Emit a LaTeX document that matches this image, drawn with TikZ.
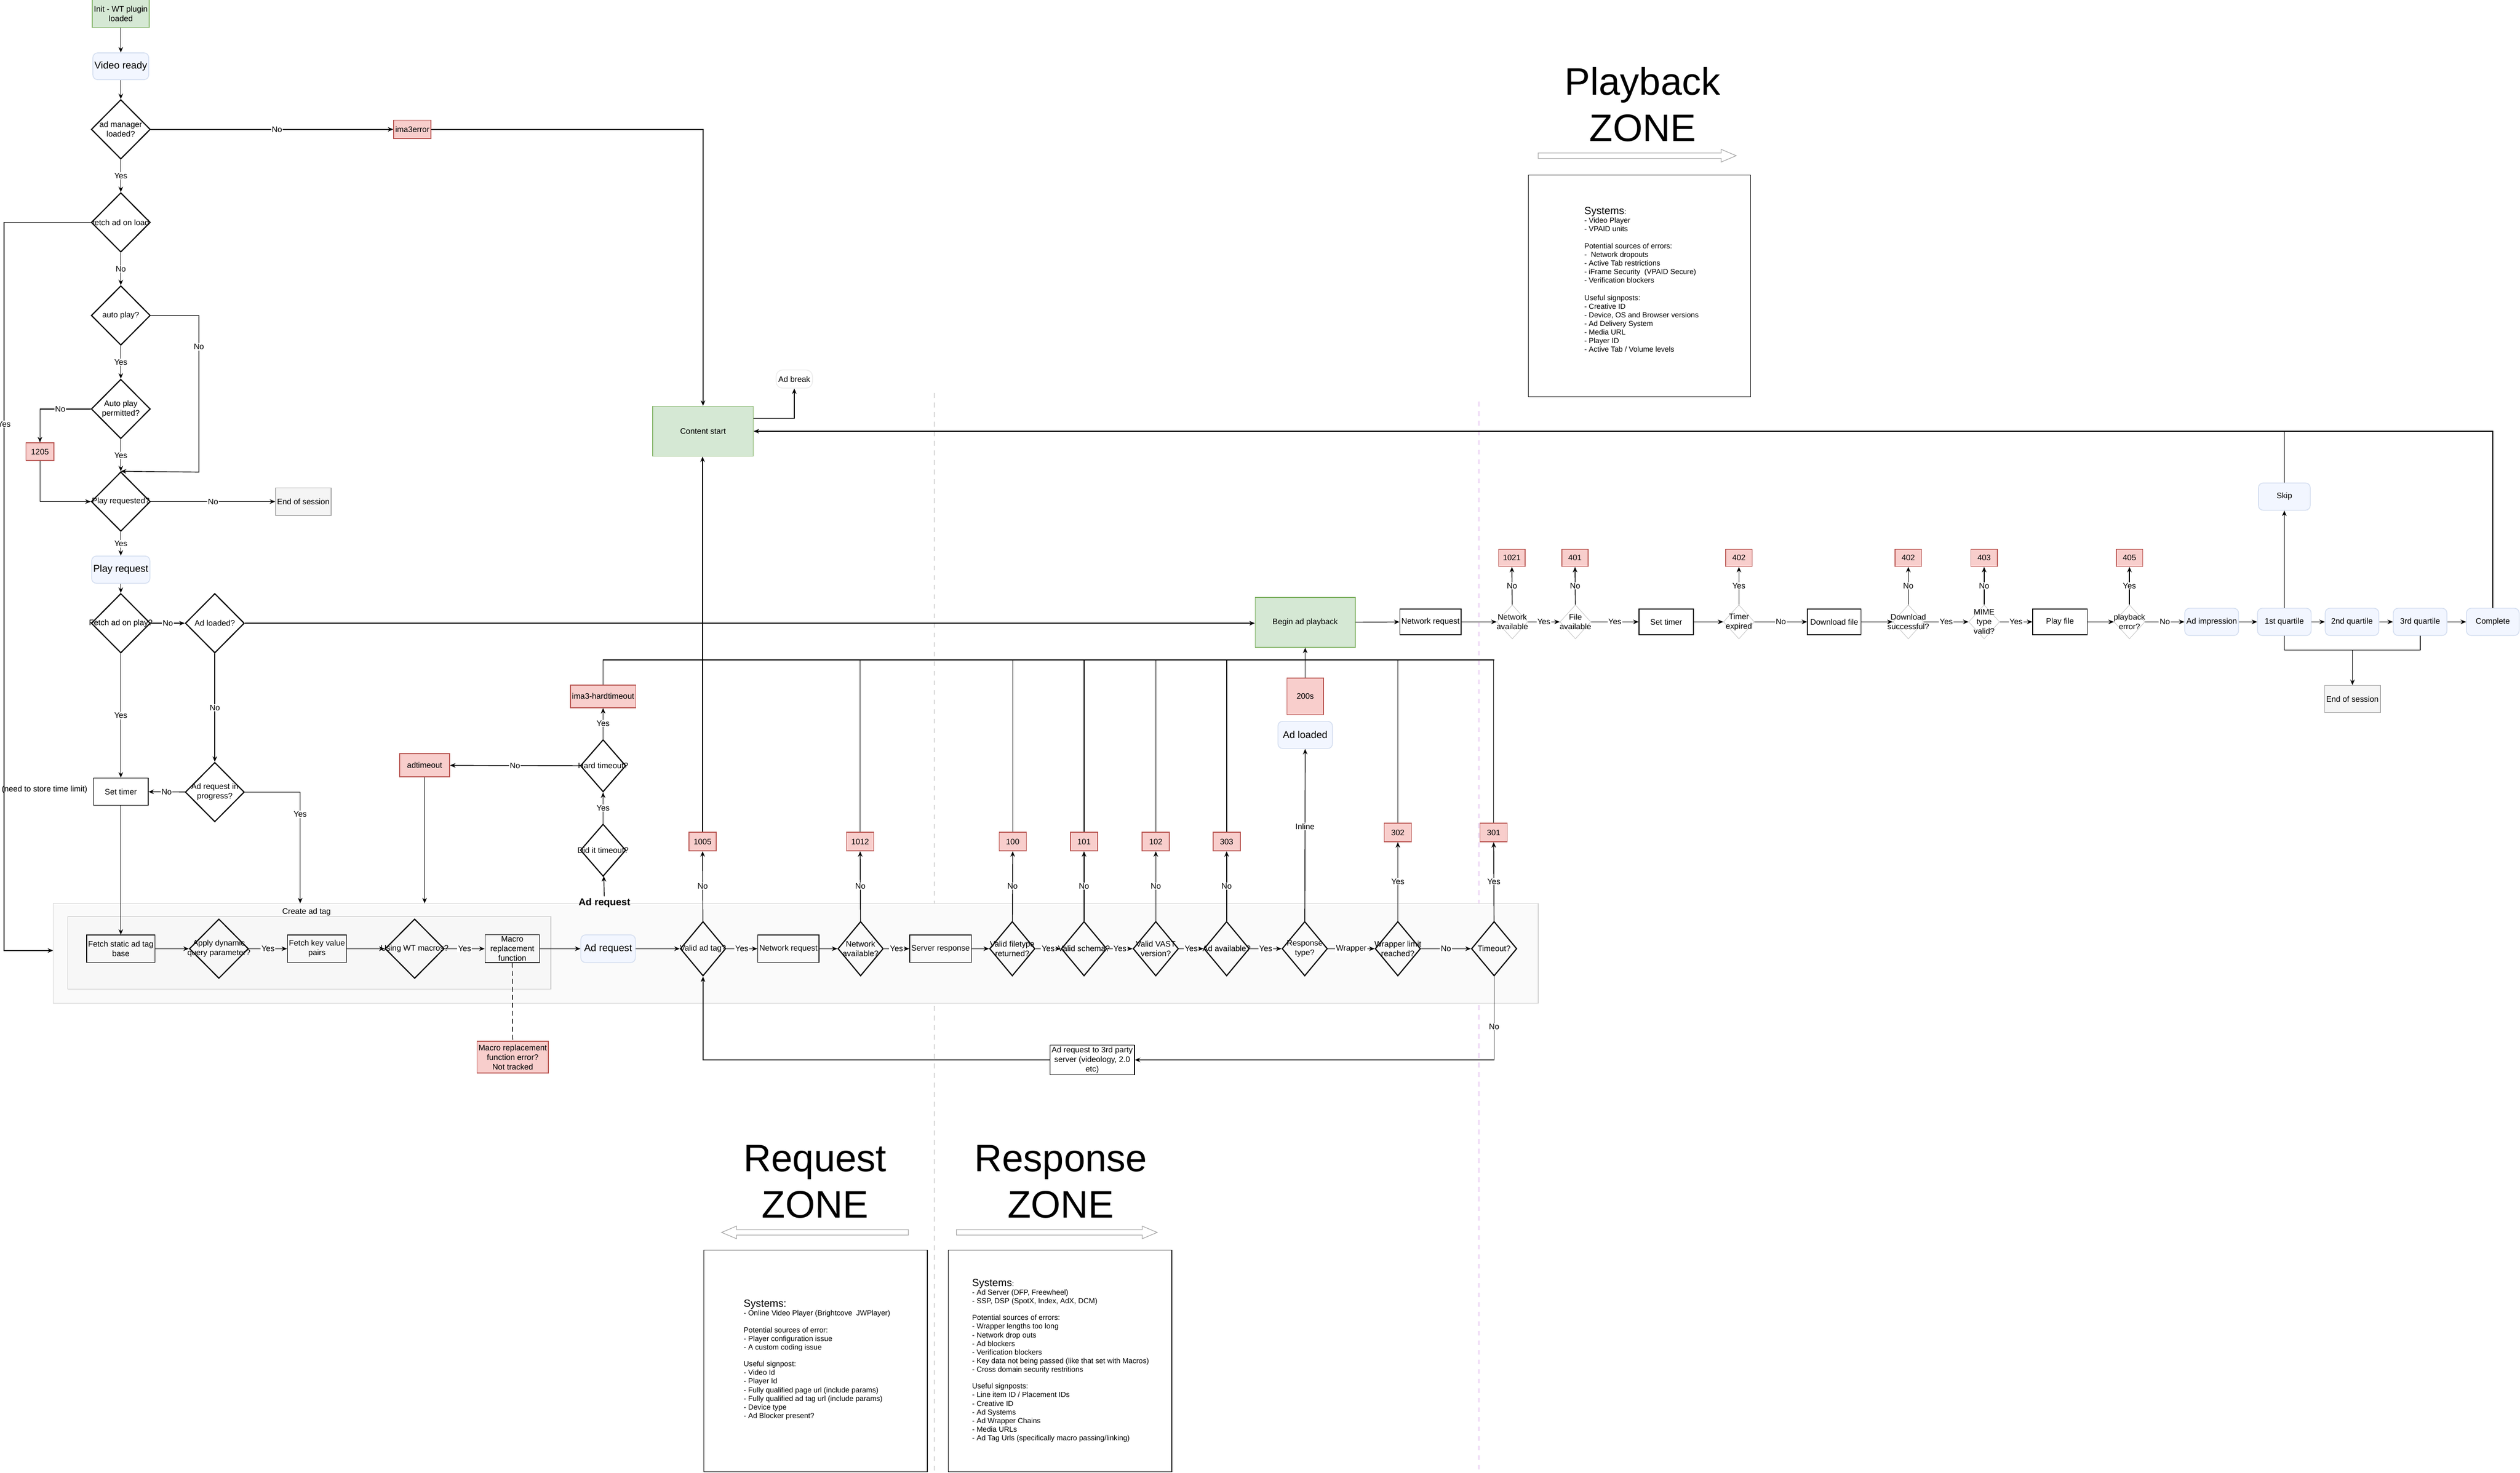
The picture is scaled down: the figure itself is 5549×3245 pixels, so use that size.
\documentclass[tikz,border=0pt]{standalone}
\usepackage{fontspec}
\setmainfont{Liberation Sans}
\usetikzlibrary{shapes.geometric,arrows.meta}
\definecolor{rfill}{HTML}{F8CECC}\definecolor{rdraw}{HTML}{B85450}
\definecolor{gfill}{HTML}{D5E8D4}\definecolor{gdraw}{HTML}{82B366}
\definecolor{bfill}{HTML}{F2F6FF}\definecolor{bdraw}{HTML}{D4DEF0}
\definecolor{pinkline}{HTML}{D8A8E8}
\newcommand\fs{\fontsize{5}{6}\selectfont}
\newcommand\fsb{\fontsize{6.2}{7.4}\selectfont}
\tikzset{
 box/.style={draw,rectangle,minimum width=1.2cm,minimum height=0.6cm,align=center,font=\fs,inner sep=1pt,line width=0.5pt},
 rbox/.style={box,rounded corners=3pt,fill=bfill,draw=bdraw,font=\fsb},
 err/.style={box,fill=rfill,draw=rdraw,minimum width=0.6cm,minimum height=0.41cm},
 grn/.style={box,fill=gfill,draw=gdraw},
 gry/.style={box,fill=gray!8,draw=gray!70},
 dia/.style={draw,diamond,inner sep=0pt,minimum width=1.3cm,minimum height=1.31cm,line width=0.7pt},
 dsm/.style={dia,minimum width=1.0cm,minimum height=1.2cm},
 dlt/.style={dia,draw=gray!45,line width=0.3pt,minimum width=0.68cm,minimum height=0.75cm},
 dtext/.style={align=center,font=\fs,inner sep=0pt},
 arr/.style={-{Stealth[length=1.2mm,width=1mm]},line width=0.45pt},
 ln/.style={line width=0.45pt},
 lab/.style={fill=white,font=\fs,inner sep=0.5pt},
 info/.style={anchor=north west,align=left,font=\fontsize{4.6}{5.4}\selectfont,inner sep=0pt},
}
\newcommand\dnode[4]{\node[#4] (#1) at (#2) {}; \node[dtext] (#1-t) at (#1) {#3};}
\begin{document}
\begin{tikzpicture}[x=0.01cm,y=-0.01cm]
\fill[white] (0,0) rectangle (5549,3245);
\useasboundingbox (0,0) rectangle (5549,3245);
% zone separators
\draw[gray!60,dashed,line width=0.4pt] (2057,866) -- (2057,3245);
\draw[pinkline,dashed,line width=0.4pt] (3257,885) -- (3257,3245);
% containers
\draw[fill=gray!4,draw=gray!35,line width=0.4pt] (117,1990) rectangle (3387,2210);
\draw[fill=gray!6,draw=gray!45,line width=0.4pt] (149,2019) rectangle (1213,2179);
\node[font=\fs] (cat) at (675,2009) {Create ad tag};
\coordinate (outL) at (117,2094);
\coordinate (outT1) at (661,1990);
\coordinate (outT2) at (935,1990);
% left column
\node[grn,minimum height=0.61cm] (init) at (266,30) {Init - WT plugin\\loaded};
\node[rbox,minimum height=0.59cm] (vready) at (266,146) {Video ready};
\dnode{adm}{266,285}{ad manager\\loaded?}{dia}
\node[err,minimum width=0.8cm] (ima) at (908,285) {ima3error};
\dnode{fload}{266,490}{fetch ad on load}{dia}
\dnode{aplay}{266,695}{auto play?}{dia}
\dnode{aperm}{266,901}{Auto play\\permitted?}{dia}
\node[err,minimum width=0.62cm,minimum height=0.39cm] (e1205) at (88,995) {1205};
\dnode{preq}{266,1105}{Play requested?}{dia}
\node[gry,minimum width=1.19cm] (eos1) at (668,1105) {End of session};
\node[rbox] (prequest) at (266,1255) {Play request};
\dnode{fplay}{266,1373}{Fetch ad on play?}{dia}
\dnode{adld}{473,1373}{Ad loaded?}{dia}
\dnode{adprog}{473,1745}{Ad request in\\progress?}{dia}
\node[box] (stimer) at (266,1744) {Set timer};
\node[font=\fs] (note) at (98,1739) {(need to store time limit)};
\node[grn,minimum width=2.21cm,minimum height=1.1cm] (cs) at (1548,950) {Content start};
\node[box,rounded corners=4pt,draw=gray!15,minimum width=0.8cm,minimum height=0.4cm] (abreak) at (1749,835) {Ad break};
% request row
\node[box] (fstatic) at (266,2090) {Fetch static ad tag\\base};
\dnode{applyd}{482,2090}{Apply dynamic\\query parameter?}{dia}
\node[box] (fkv) at (698,2090) {Fetch key value\\pairs};
\dnode{usewt}{913,2090}{Using WT macros?}{dia}
\node[box] (macro) at (1128,2090) {Macro\\replacement\\function};
\node[rbox,minimum height=0.61cm] (adreq) at (1339,2090) {Ad request};
\dnode{vtag}{1548,2090}{Valid ad tag?}{dsm}
\node[box] (netreq) at (1736,2090) {Network request};
\dnode{netav}{1895,2090}{Network\\available?}{dsm}
\node[box] (srv) at (2071,2090) {Server response};
\dnode{vft}{2229,2090}{Valid filetype\\returned?}{dsm}
\dnode{vsch}{2387,2090}{Valid schema?}{dsm}
\dnode{vvast}{2545,2090}{Valid VAST\\version?}{dsm}
\dnode{adav}{2701,2090}{Ad available?}{dsm}
\dnode{rtype}{2873,2090}{Response\\type?}{dsm}
\dnode{wrap}{3078,2090}{Wrapper limit\\reached?}{dsm}
\dnode{tout}{3290,2090}{Timeout?}{dsm}
\node[err] (e1005) at (1547,1854) {1005};
\node[err] (e1012) at (1894,1854) {1012};
\node[err] (e100) at (2230,1854) {100};
\node[err] (e101) at (2387,1854) {101};
\node[err] (e102) at (2545,1854) {102};
\node[err] (e303) at (2701,1854) {303};
\node[err] (e302) at (3078,1834) {302};
\node[err] (e301) at (3289,1834) {301};
\node[err,minimum width=1.4cm,minimum height=0.7cm] (merr) at (1129,2329) {Macro replacement\\function error?\\Not tracked};
\node[err,minimum width=1.1cm,minimum height=0.51cm] (adto) at (935,1686) {adtimeout};
\dnode{hardto}{1328,1687}{Hard timeout?}{dsm,minimum height=1.15cm}
\node[err,minimum width=1.41cm,minimum height=0.5cm] (hard3) at (1328,1534) {ima3-hardtimeout};
\dnode{didto}{1328,1873}{Did it timeout?}{dsm,minimum height=1.15cm}
\node[font=\fsb\bfseries,inner sep=1pt] (adreql) at (1331,1989) {Ad request};
\node[box,minimum width=1.52cm] (third) at (2405,2335) {Ad request to 3rd party\\server (videology, 2.0\\etc)};
\node[rbox] (adloaded) at (2874,1619) {Ad loaded};
\node[err,minimum width=0.8cm,minimum height=0.8cm] (e200) at (2874,1534) {200s};
\node[grn,minimum width=2.2cm,minimum height=1.1cm] (begin) at (2874,1371) {Begin ad playback};
% playback row
\node[box,minimum width=1.18cm,minimum height=0.57cm] (pnet) at (3150,1370) {Network request};
\dnode{pnav}{3330,1370}{Network\\available}{dlt}
\dnode{pfile}{3469,1370}{File\\available}{dlt}
\node[box,minimum height=0.57cm] (pst) at (3669,1370) {Set timer};
\dnode{ptim}{3829,1370}{Timer\\expired}{dlt}
\node[box,minimum width=1.18cm,minimum height=0.57cm] (pdl) at (4039,1370) {Download file};
\dnode{pdls}{4202,1370}{Download\\successful?}{dlt}
\dnode{pmime}{4369,1370}{MIME\\type\\valid?}{dlt}
\node[box,minimum height=0.57cm] (pplay) at (4536,1370) {Play file};
\dnode{pperr}{4689,1370}{playback\\error?}{dlt}
\node[rbox,minimum width=1.18cm,font=\fs] (aimp) at (4870,1370) {Ad impression};
\node[rbox,minimum width=1.18cm,font=\fs] (q1) at (5030,1370) {1st quartile};
\node[rbox,minimum width=1.18cm,font=\fs] (q2) at (5179,1370) {2nd quartile};
\node[rbox,minimum width=1.18cm,font=\fs] (q3) at (5329,1370) {3rd quartile};
\node[rbox,minimum width=1.16cm,font=\fs] (comp) at (5489,1370) {Complete};
\node[err,minimum width=0.58cm,minimum height=0.38cm] (e1021) at (3329,1229) {1021};
\node[err,minimum width=0.58cm,minimum height=0.38cm] (e401) at (3468,1229) {401};
\node[err,minimum width=0.58cm,minimum height=0.38cm] (e402a) at (3829,1229) {402};
\node[err,minimum width=0.58cm,minimum height=0.38cm] (e402b) at (4202,1229) {402};
\node[err,minimum width=0.58cm,minimum height=0.38cm] (e403) at (4369,1229) {403};
\node[err,minimum width=0.58cm,minimum height=0.38cm] (e405) at (4689,1229) {405};
\node[rbox,minimum width=1.14cm,font=\fs] (skip) at (5030,1094) {Skip};
\node[gry,minimum width=1.18cm] (eos2) at (5180,1540) {End of session};
\coordinate (qj) at (5180,1432);
\coordinate (bus) at (3290,1454);
% connectors left
\draw[arr] (init) -- (vready);
\draw[arr] (vready) -- (adm);
\draw[arr] (adm) -- node[lab,pos=0.52]{No} (ima);
\draw[arr] (ima) -| (cs.north);
\draw[arr] (adm) -- node[lab]{Yes} (fload);
\draw[arr] (fload.west) -| (9,1500) node[lab,pos=0.72]{Yes} |- (outL);
\draw[arr] (fload) -- node[lab]{No} (aplay);
\draw[arr] (aplay) -- node[lab]{Yes} (aperm);
\draw[arr] (aplay.east) -| (438,1040) node[lab,pos=0.6]{No} -- (preq.north);
\draw[arr] (aperm.west) -| node[lab,pos=0.3]{No} (e1205);
\draw[arr] (e1205) |- (preq.west);
\draw[arr] (aperm) -- node[lab]{Yes} (preq);
\draw[arr] (preq) -- node[lab]{No} (eos1);
\draw[arr] (preq) -- node[lab]{Yes} (prequest);
\draw[arr] (prequest) -- (fplay);
\draw[arr] (fplay) -- node[lab]{No} (adld);
\draw[arr] (adld.east) -- (begin.west |- adld.east);
\draw[arr] (fplay) -- node[lab]{Yes} (stimer);
\draw[arr] (adld) -- node[lab]{No} (adprog);
\draw[arr] (adprog) -- node[lab]{No} (stimer);
\draw[arr] (adprog.east) -| node[lab,pos=0.6]{Yes} (outT1);
\draw[arr] (stimer) -- (fstatic);
% request row
\draw[arr] (fstatic) -- (applyd);
\draw[arr] (applyd) -- node[lab]{Yes} (fkv);
\draw[arr] (fkv) -- (usewt);
\draw[arr] (usewt) -- node[lab]{Yes} (macro);
\draw[arr] (macro) -- (adreq);
\draw[arr] (adreq) -- (vtag);
\draw[arr] (vtag) -- node[lab]{Yes} (netreq);
\draw[arr] (netreq) -- (netav);
\draw[arr] (netav) -- node[lab]{Yes} (srv);
\draw[arr] (srv) -- (vft);
\draw[arr] (vft) -- node[lab]{Yes} (vsch);
\draw[arr] (vsch) -- node[lab]{Yes} (vvast);
\draw[arr] (vvast) -- node[lab]{Yes} (adav);
\draw[arr] (adav) -- node[lab]{Yes} (rtype);
\draw[arr] (rtype) -- node[lab]{Wrapper} (wrap);
\draw[arr] (wrap) -- node[lab]{No} (tout);
\draw[arr] (vtag) -- node[lab]{No} (e1005);
\draw[arr] (netav) -- node[lab]{No} (e1012);
\draw[arr] (vft) -- node[lab]{No} (e100);
\draw[arr] (vsch) -- node[lab]{No} (e101);
\draw[arr] (vvast) -- node[lab]{No} (e102);
\draw[arr] (adav) -- node[lab]{No} (e303);
\draw[arr] (wrap) -- node[lab]{Yes} (e302);
\draw[arr] (tout) -- node[lab]{Yes} (e301);
\draw[arr] (e1005) -- (cs.south -| e1005);
\draw[ln] (hard3.north) |- (bus);
\foreach \n in {e1012,e100,e101,e102,e303,e302,e301} \draw[ln] (\n.north) -- (\n.north |- bus);
\draw[ln,densely dashed] (macro.south) -- (merr.north);
\draw[arr] (adto.south) -- (outT2);
\draw[arr] (hardto) -- node[lab]{No} (adto);
\draw[arr] (hardto) -- node[lab]{Yes} (hard3);
\draw[arr] (didto) -- node[lab]{Yes} (hardto);
\draw[arr] (adreql) -- (didto);
\draw[arr] (rtype) -- node[lab,pos=0.55]{Inline} (adloaded);
\draw[arr] (e200) -- (begin);
\draw[arr] (tout.south) |- node[lab,pos=0.3]{No} (third.east);
\draw[arr] (third.west) -| (vtag.south);
% playback row
\draw[arr] (begin) -- (pnet);
\draw[arr] (pnet) -- (pnav);
\draw[arr] (pnav) -- node[lab]{Yes} (pfile);
\draw[arr] (pfile) -- node[lab]{Yes} (pst);
\draw[arr] (pst) -- (ptim);
\draw[arr] (ptim) -- node[lab]{No} (pdl);
\draw[arr] (pdl) -- (pdls);
\draw[arr] (pdls) -- node[lab]{Yes} (pmime);
\draw[arr] (pmime) -- node[lab]{Yes} (pplay);
\draw[arr] (pplay) -- (pperr);
\draw[arr] (pperr) -- node[lab]{No} (aimp);
\draw[arr] (aimp) -- (q1);
\draw[arr] (q1) -- (q2);
\draw[arr] (q2) -- (q3);
\draw[arr] (q3) -- (comp);
\draw[arr] (pnav) -- node[lab]{No} (e1021);
\draw[arr] (pfile) -- node[lab]{No} (e401);
\draw[arr] (ptim) -- node[lab]{Yes} (e402a);
\draw[arr] (pdls) -- node[lab]{No} (e402b);
\draw[arr] (pmime) -- node[lab]{No} (e403);
\draw[arr] (pperr) -- node[lab]{Yes} (e405);
\draw[arr] (q1) -- (skip);
\draw[ln] (skip.north) -- (skip.north |- cs.east);
\draw[arr] (comp.north) |- (cs.east);
\draw[arr] ([yshift=0.28cm]cs.east) -| (abreak.south);
\draw[ln] (q1.south) |- (qj);
\draw[ln] (q3.south) |- (qj);
\draw[arr] (qj) -- (eos2);
% zones
\node[font=\fontsize{24}{29}\selectfont,align=center] (pz) at (3617,230) {Playback\\ZONE};
\node[font=\fontsize{24}{29}\selectfont,align=center] (rqz) at (1795,2603) {Request\\ZONE};
\node[font=\fontsize{24}{29}\selectfont,align=center] (rsz) at (2336,2603) {Response\\ZONE};
\draw[gray!70,fill=white,line width=0.4pt] (3387,337) -- (3790,337) -- (3790,329) -- (3823,343) -- (3790,357) -- (3790,349) -- (3387,349) -- cycle;
\draw[gray!70,fill=white,line width=0.4pt] (2000,2709) -- (1622,2709) -- (1622,2701) -- (1589,2715) -- (1622,2729) -- (1622,2721) -- (2000,2721) -- cycle;
\draw[gray!70,fill=white,line width=0.4pt] (2106,2709) -- (2515,2709) -- (2515,2701) -- (2548,2715) -- (2515,2729) -- (2515,2721) -- (2106,2721) -- cycle;
\node[draw,rectangle,minimum width=4.89cm,minimum height=4.88cm,line width=0.5pt] (pbox) at (3610,630) {};
\node[info] (ptext) at (3488,455) {{\fontsize{6.5}{7}\selectfont Systems}:\\- Video Player\\- VPAID units\\[5.4pt]Potential sources of errors:\\-\ \ Network dropouts\\- Active Tab restrictions\\- iFrame Security\ \ (VPAID Secure)\\- Verification blockers\\[5.4pt]Useful signposts:\\- Creative ID\\- Device, OS and Browser versions\\- Ad Delivery System\\- Media URL\\- Player ID\\- Active Tab / Volume levels};
\node[draw,rectangle,minimum width=4.92cm,minimum height=4.88cm,line width=0.5pt] (rqbox) at (1796,2998) {};
\node[info] (rqtext) at (1637,2863) {{\fontsize{6.5}{7}\selectfont Systems:}\\- Online Video Player (Brightcove\ \ JWPlayer)\\[5.1pt]Potential sources of error:\\- Player configuration issue\\- A custom coding issue\\[5.1pt]Useful signpost:\\- Video Id\\- Player Id\\- Fully qualified page url (include params)\\- Fully qualified ad tag url (include params)\\- Device type\\- Ad Blocker present?};
\node[draw,rectangle,minimum width=4.92cm,minimum height=4.88cm,line width=0.5pt] (rsbox) at (2334,2998) {};
\node[info] (rstext) at (2140,2817) {{\fontsize{6.5}{7}\selectfont Systems}:\\- Ad Server (DFP, Freewheel)\\- SSP, DSP (SpotX, Index, AdX, DCM)\\[5.1pt]Potential sources of errors:\\- Wrapper lengths too long\\- Network drop outs\\- Ad blockers\\- Verification blockers\\- Key data not being passed (like that set with Macros)\\- Cross domain security restritions\\[5.1pt]Useful signposts:\\- Line item ID / Placement IDs\\- Creative ID\\- Ad Systems\\- Ad Wrapper Chains\\- Media URLs\\- Ad Tag Urls (specifically macro passing/linking)};
\end{tikzpicture}
\end{document}
